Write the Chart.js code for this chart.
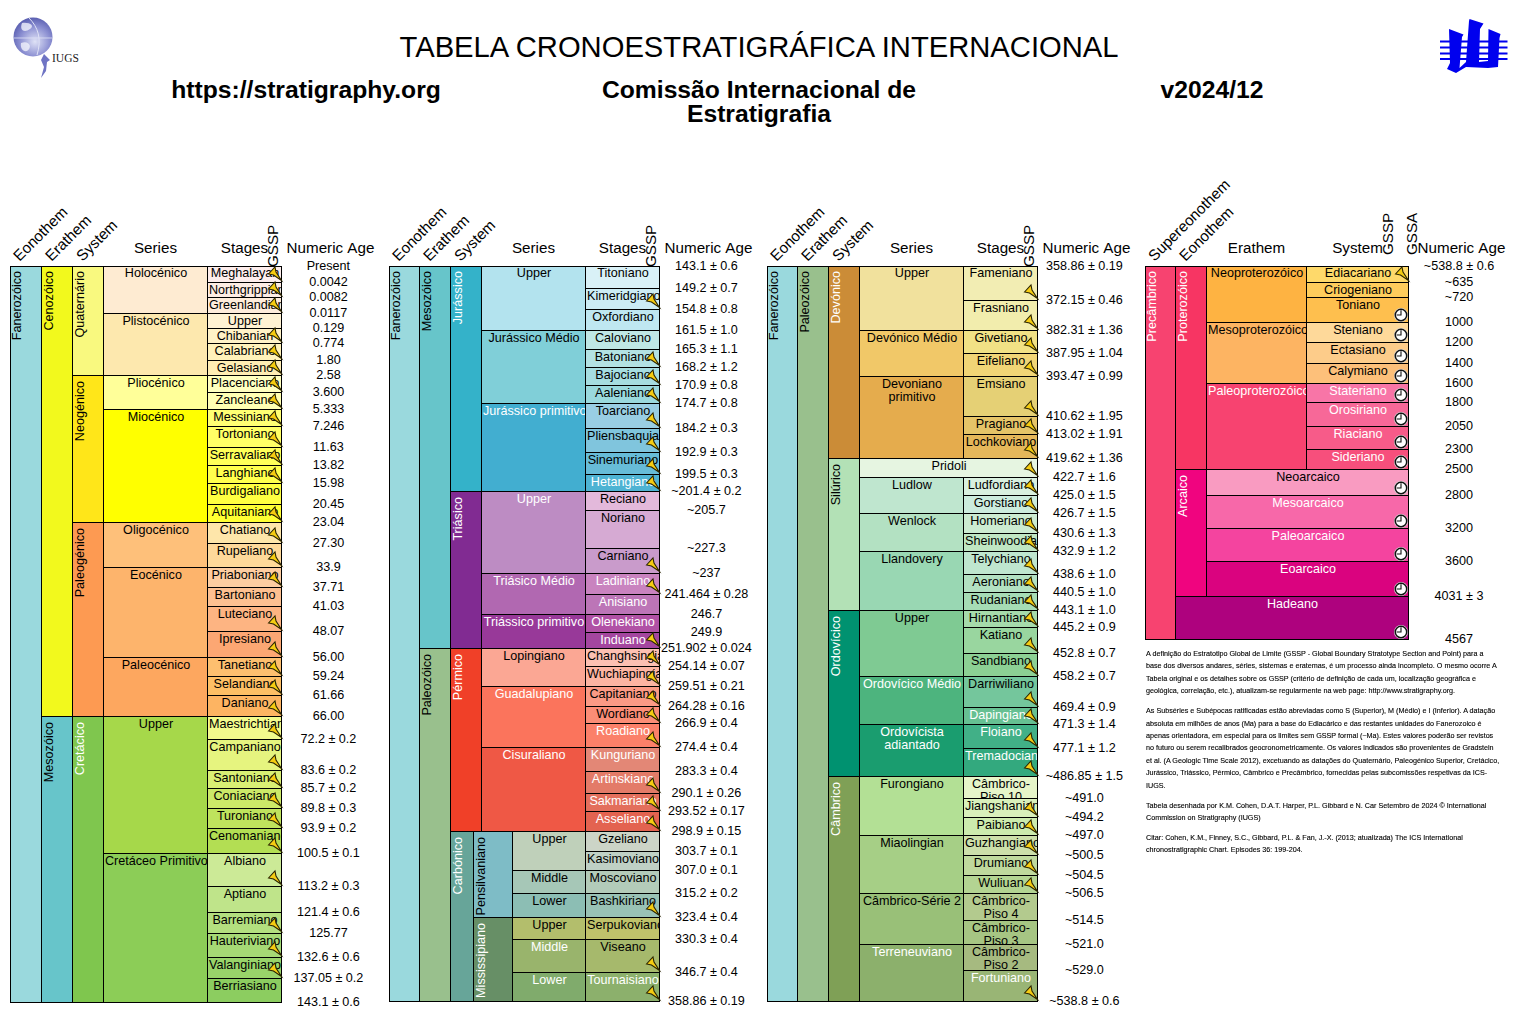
<!DOCTYPE html>
<html lang="pt">
<head>
<meta charset="utf-8">
<title>Tabela Cronoestratigráfica Internacional</title>
<script src="https://cdn.jsdelivr.net/npm/chart.js@4"></script>
<style>
body { margin: 0; background: #fff; font-family: "Liberation Sans", sans-serif; }
canvas, svg, h1, h2, #notes { position: absolute; }
canvas { top: 170px; }
h1 { left: 0; top: 30px; width: 1518px; margin: 0; text-align: center; font-weight: normal; font-size: 29.2px; line-height: 34px; color: #000; }
h2 { margin: 0; text-align: center; font-size: 24.7px; line-height: 23.5px; color: #000; }
#notes { left: 1146px; top: 648px; width: 372px; font-size: 7.2px; line-height: 12.4px; color: #000; white-space: nowrap; -webkit-text-stroke: 0.12px #000; }
#notes p { margin: 0 0 7.6px; }
</style>
</head>
<body>
<svg style="left:0;top:5px" width="100" height="80" viewBox="0 0 100 80">
  <defs><radialGradient id="globe" cx="0.55" cy="0.62" r="0.7">
    <stop offset="0" stop-color="#dfe2f6"/><stop offset="0.55" stop-color="#8c90d2"/><stop offset="1" stop-color="#4a4fa6"/>
  </radialGradient></defs>
  <circle cx="33" cy="32" r="19.5" fill="url(#globe)"/>
  <path d="M14 33 H52" stroke="#dfe2f6" stroke-width="0.8"/>
  <path d="M29 13 C38 22 42 34 37 50" fill="none" stroke="#dfe2f6" stroke-width="1"/>
  <path d="M22 18 C30 17 35 21 30 24 C25 28 19 26 22 18Z M21 38 C29 35 33 42 27 46 C23 47 20 43 21 38Z" fill="#f0f1fb" opacity="0.8"/>
  <path d="M44 49 L50 55 L47 57 L46 66 L41 73 L44 62 L41 55Z" fill="#6f74c4"/>
  <text x="52" y="57" font-family="Liberation Serif" font-size="11.5" fill="#222">IUGS</text>
</svg>
<svg style="left:1420px;top:5px" width="100" height="80" viewBox="0 0 100 80" fill="#0000ee">
  <path d="M20 35.5H87.5V37.5H20ZM20 41.5H87.5V43.5H20ZM20 47.5H87.5V49.5H20ZM20 53H87.5V55H20Z"/>
  <path d="M29 24 L43.5 29.5 L42 32 L39.5 63 L46 57 L49 16 L49.5 14 L63.5 18.5 L60 24 L59 57 L68 56 L68.5 24 L80.5 29 L79.5 33 L78 62 L68 63 L46 62 L36 68 L27 64 L30 58Z"/>
</svg>
<h1>TABELA CRONOESTRATIGRÁFICA INTERNACIONAL</h1>
<h2 style="left:106px;top:78px;width:400px">https://stratigraphy.org</h2>
<h2 style="left:509px;top:78px;width:500px">Comissão Internacional de<br>Estratigrafia</h2>
<h2 style="left:1112px;top:78px;width:200px">v2024/12</h2>
<canvas id="p1" width="378" height="848" style="left:0"></canvas>
<canvas id="p2" width="378" height="848" style="left:378px"></canvas>
<canvas id="p3" width="378" height="848" style="left:756px"></canvas>
<canvas id="p4" width="386" height="848" style="left:1134px"></canvas>
<div id="notes">
<p>A definição do Estratotipo Global de Limite (GSSP - Global Boundary Stratotype Section and Point) para a<br>base dos diversos andares, séries, sistemas e eratemas, é um processo ainda incompleto. O mesmo ocorre A<br>Tabela original e os detalhes sobre os GSSP (critério de definição de cada um, localização geográfica e<br>geológica, correlação, etc.), atualizam-se regularmente na web page: http://www.stratigraphy.org.</p>
<p>As Subséries e Subépocas ratificadas estão abreviadas como S (Superior), M (Médio) e I (Inferior). A datação<br>absoluta em milhões de anos (Ma) para a base do Ediacárico e das restantes unidades do Fanerozoico é<br>apenas orientadora, em especial para os limites sem GSSP formal (~Ma). Estes valores poderão ser revistos<br>no futuro ou serem recalibrados geocronometricamente. Os valores indicados são provenientes de Gradstein<br>et al. (A Geologic Time Scale 2012), excetuando as datações do Quaternário, Paleogénico Superior, Cretácico,<br>Jurássico, Triássico, Pérmico, Câmbrico e Precâmbrico, fornecidas pelas subcomissões respetivas da ICS-<br>IUGS.</p>
<p>Tabela desenhada por K.M. Cohen, D.A.T. Harper, P.L. Gibbard e N. Car Setembro de 2024 © International<br>Commission on Stratigraphy (IUGS)</p>
<p>Citar: Cohen, K.M., Finney, S.C., Gibbard, P.L. &amp; Fan, J.-X. (2013; atualizada) The ICS International<br>chronostratigraphic Chart. Episodes 36: 199-204.</p>
</div>
<script>
// row edges below are table rows, counted down from the top of each table

// panel 1: Cenozoic and Cretaceous
const p1Stages = ['Meghalayan', 'Northgrippian', 'Greenlandian', 'Upper', 'Chibanian', 'Calabriano', 'Gelasiano', 'Placenciano', 'Zancleano', 'Messiniano', 'Tortoniano', 'Serravaliano', 'Langhiano', 'Burdigaliano', 'Aquitaniano', 'Chatiano', 'Rupeliano', 'Priaboniano', 'Bartoniano', 'Luteciano', 'Ipresiano', 'Tanetiano', 'Selandiano', 'Daniano', 'Maestrichtiano', 'Campaniano', 'Santoniano', 'Coniaciano', 'Turoniano', 'Cenomaniano', 'Albiano', 'Aptiano', 'Barremiano', 'Hauteriviano', 'Valanginiano', 'Berriasiano'];
const p1Rows = [0, 17, 32, 48, 63, 78, 95, 110, 127, 144, 161, 182, 200, 218, 239, 257, 278, 302, 322, 341, 366, 392, 411, 430, 451, 474, 505, 523, 543, 563, 588, 621, 647, 668, 692, 713, 737];
const p1Ages = ['Present', '0.0042', '0.0082', '0.0117', '0.129', '0.774', '1.80', '2.58', '3.600', '5.333', '7.246', '11.63', '13.82', '15.98', '20.45', '23.04', '27.30', '33.9', '37.71', '41.03', '48.07', '56.00', '59.24', '61.66', '66.00', '72.2 ± 0.2', '83.6 ± 0.2', '85.7 ± 0.2', '89.8 ± 0.3', '93.9 ± 0.2', '100.5 ± 0.1', '113.2 ± 0.3', '121.4 ± 0.6', '125.77', '132.6 ± 0.6', '137.05 ± 0.2', '143.1 ± 0.6'];
const p1Gssp = [0, 1, 2, 4, 5, 6, 7, 8, 9, 10, 11, 12, 14, 15, 16, 17, 19, 20, 21, 22, 23, 24, 25, 26, 27, 28, 29, 30, 32, 33, 34];
const p1Series = ['Holocénico', 'Plistocénico', 'Pliocénico', 'Miocénico', 'Oligocénico', 'Eocénico', 'Paleocénico', 'Upper', 'Cretáceo Primitivo'];
const p1SeriesRows = [0, 48, 110, 144, 257, 302, 392, 451, 588, 737];
const p1Systems = ['Quaternário', 'Neogénico', 'Paleogénico', 'Cretácico'];
const p1SystemRows = [0, 110, 257, 451, 737];
const p1Eras = ['Cenozóico', 'Mesozóico'];
const p1EraRows = [0, 451, 737];
const p1Eons = ['Fanerozóico'];
const p1EonRows = [0, 737];

// panel 2: Jurassic to Carboniferous
const p2Stages = ['Titoniano', 'Kimeridgiano', 'Oxfordiano', 'Caloviano', 'Batoniano', 'Bajociano', 'Aaleniano', 'Toarciano', 'Pliensbaquiano', 'Sinemuriano', 'Hetangiano', 'Reciano', 'Noriano', 'Carniano', 'Ladiniano', 'Anisiano', 'Olenekiano', 'Induano', 'Changhsingiano', 'Wuchiapingiano', 'Capitaniano', 'Wordiano', 'Roadiano', 'Kunguriano', 'Artinskiano', 'Sakmariano', 'Asseliano', 'Gzeliano', 'Kasimoviano', 'Moscoviano', 'Bashkiriano', 'Serpukoviano', 'Viseano', 'Tournaisiano'];
const p2Rows = [0, 23, 44, 65, 84, 102, 120, 138, 163, 187, 209, 226, 245, 283, 308, 329, 349, 367, 383, 401, 421, 441, 458, 482, 506, 528, 546, 566, 586, 605, 628, 652, 674, 707, 736];
const p2Ages = ['143.1 ± 0.6', '149.2 ± 0.7', '154.8 ± 0.8', '161.5 ± 1.0', '165.3 ± 1.1', '168.2 ± 1.2', '170.9 ± 0.8', '174.7 ± 0.8', '184.2 ± 0.3', '192.9 ± 0.3', '199.5 ± 0.3', '~201.4 ± 0.2', '~205.7', '~227.3', '~237', '241.464 ± 0.28', '246.7', '249.9', '251.902 ± 0.024', '254.14 ± 0.07', '259.51 ± 0.21', '264.28 ± 0.16', '266.9 ± 0.4', '274.4 ± 0.4', '283.3 ± 0.4', '290.1 ± 0.26', '293.52 ± 0.17', '298.9 ± 0.15', '303.7 ± 0.1', '307.0 ± 0.1', '315.2 ± 0.2', '323.4 ± 0.4', '330.3 ± 0.4', '346.7 ± 0.4', '358.86 ± 0.19'];
const p2Gssp = [1, 4, 5, 6, 7, 8, 9, 10, 13, 14, 17, 18, 19, 20, 21, 22, 24, 25, 26, 30, 32, 33];
const p2Series = ['Upper', 'Jurássico Médio', 'Jurássico primitivo', 'Upper', 'Triásico Médio', 'Triássico primitivo', 'Lopingiano', 'Guadalupiano', 'Cisuraliano'];
const p2SeriesRows = [0, 65, 138, 226, 308, 349, 383, 421, 482, 566];
const p2CarbSeries = ['Upper', 'Middle', 'Lower', 'Upper', 'Middle', 'Lower'];
const p2CarbSeriesRows = [566, 605, 628, 652, 674, 707, 736];
const p2SubSystems = ['Pensilvaniano', 'Mississipiano'];
const p2SubSystemRows = [566, 652, 736];
const p2Systems = ['Jurássico', 'Triásico', 'Pérmico'];
const p2SystemRows = [0, 226, 383, 566];
const p2Carb = ['Carbónico'];
const p2CarbRows = [566, 736];
const p2Eras = ['Mesozóico', 'Paleozóico'];
const p2EraRows = [0, 383, 736];
const p2Eons = ['Fanerozóico'];
const p2EonRows = [0, 736];

// panel 3: Devonian to Cambrian, the row 7 stage is Pridoli which spans two columns
const p3Stages = ['Fameniano', 'Frasniano', 'Givetiano', 'Eifeliano', 'Emsiano', 'Pragiano', 'Lochkoviano', null, 'Ludfordiano', 'Gorstiano', 'Homeriano', 'Sheinwoodiano', 'Telychiano', 'Aeroniano', 'Rudaniano', 'Hirnantiano', 'Katiano', 'Sandbiano', 'Darriwiliano', 'Dapingiano', 'Floiano', 'Tremadociano', 'Câmbrico-\nPiso 10', 'Jiangshaniano', 'Paibiano', 'Guzhangiano', 'Drumiano', 'Wuliuan', 'Câmbrico-\nPiso 4', 'Câmbrico-\nPiso 3', 'Câmbrico-\nPiso 2', 'Fortuniano'];
const p3Rows = [0, 35, 65, 88, 111, 151, 169, 193, 212, 230, 248, 268, 286, 309, 327, 345, 362, 388, 411, 442, 459, 483, 511, 533, 552, 570, 590, 610, 628, 655, 679, 705, 736];
const p3Ages = ['358.86 ± 0.19', '372.15 ± 0.46', '382.31 ± 1.36', '387.95 ± 1.04', '393.47 ± 0.99', '410.62 ± 1.95', '413.02 ± 1.91', '419.62 ± 1.36', '422.7 ± 1.6', '425.0 ± 1.5', '426.7 ± 1.5', '430.6 ± 1.3', '432.9 ± 1.2', '438.6 ± 1.0', '440.5 ± 1.0', '443.1 ± 1.0', '445.2 ± 0.9', '452.8 ± 0.7', '458.2 ± 0.7', '469.4 ± 0.9', '471.3 ± 1.4', '477.1 ± 1.2', '~486.85 ± 1.5', '~491.0', '~494.2', '~497.0', '~500.5', '~504.5', '~506.5', '~514.5', '~521.0', '~529.0', '~538.8 ± 0.6'];
const p3Gssp = [0, 1, 2, 3, 4, 5, 6, 7, 8, 9, 10, 11, 12, 13, 14, 15, 16, 17, 18, 19, 20, 21, 23, 24, 25, 26, 27, 31];
const p3Span = ['Pridoli'];
const p3SpanRows = [193, 212];
const p3Series = ['Upper', 'Devónico Médio', 'Devoniano\nprimitivo', null, 'Ludlow', 'Wenlock', 'Llandovery', 'Upper', 'Ordovícico Médio', 'Ordovícista\nadiantado', 'Furongiano', 'Miaolingian', 'Câmbrico-Série 2', 'Terreneuviano'];
const p3SeriesRows = [0, 65, 111, 193, 212, 248, 286, 345, 411, 459, 511, 570, 628, 679, 736];
const p3Systems = ['Devónico', 'Silúrico', 'Ordovícico', 'Câmbrico'];
const p3SystemRows = [0, 193, 345, 511, 736];
const p3Eras = ['Paleozóico'];
const p3EraRows = [0, 736];
const p3Eons = ['Fanerozóico'];
const p3EonRows = [0, 736];

// panel 4: Precambrian
const p4Systems = ['Ediacariano', 'Criogeniano', 'Toniano', 'Steniano', 'Ectasiano', 'Calymiano', 'Stateriano', 'Orosiriano', 'Riaciano', 'Sideriano'];
const p4SystemRows = [0, 17, 32, 57, 77, 98, 118, 137, 161, 184, 204];
const p4Rows = [0, 17, 32, 57, 77, 98, 118, 137, 161, 184, 204, 230, 263, 296, 331, 374];
const p4Ages = ['~538.8 ± 0.6', '~635', '~720', '1000', '1200', '1400', '1600', '1800', '2050', '2300', '2500', '2800', '3200', '3600', '4031 ± 3', '4567'];
const p4Gssp = [0];
const p4Gssa = [2, 3, 4, 5, 6, 7, 8, 9, 10, 11, 12, 13, 14];
const p4Eras = ['Neoproterozóico', 'Mesoproterozóico', 'Paleoproterozóico'];
const p4EraRows = [0, 57, 118, 204];
const p4Span = ['Neoarcaico', 'Mesoarcaico', 'Paleoarcaico', 'Eoarcaico'];
const p4SpanRows = [204, 230, 263, 296, 331];
const p4Eons = ['Proterozóico', 'Arcaico'];
const p4EonRows = [0, 204, 331];
const p4Hadean = ['Hadeano'];
const p4HadeanRows = [331, 374];
const p4Super = ['Precâmbrico'];
const p4SuperRows = [0, 374];

// colours, same order as the lists above
const p1StageColors = ['#FDEDEC', '#FDECE4', '#FEECDB', '#FFF2D3', '#FFF2C7', '#FFF2BA', '#FFEDB3', '#FFFFBF', '#FFFFB3', '#FFFF73', '#FFFF66', '#FFFF59', '#FFFF4D', '#FFFF41', '#FFFF33', '#FEE6AA', '#FED99A', '#FDCDA1', '#FDC091', '#FDB482', '#FCA773', '#FDBF6F', '#FEBF65', '#FDB462', '#F2FA8C', '#E6F47F', '#D9EF74', '#CCE968', '#BFE35D', '#B3DE53', '#CCEA97', '#BFE48A', '#B3DF7F', '#A6D975', '#99D36A', '#8CCD60'];
const p1SeriesColors = ['#FEEBD2', '#FDE8AE', '#FFFF99', '#FFFF00', '#FEC07A', '#FDB46C', '#FDA75F', '#A6D84A', '#8CCD57'];
const p1SystemColors = ['#F9F97F', '#FFE619', '#FD9A52', '#7FC64E'];
const p1EraColors = ['#F2F91D', '#67C5CA'];
const eonColor = ['#9AD9DD'];
const p2StageColors = ['#D9F1F7', '#CCECF4', '#BFE7F1', '#BFE7E5', '#B3E2E3', '#A6DDE0', '#9AD9DD', '#99CEE3', '#80C5DD', '#67BCD8', '#4EB3D3', '#E3B9DB', '#D6AAD3', '#C99BCB', '#C983BF', '#BC75B7', '#B051A5', '#A4469F', '#FCC0B2', '#FCB4A2', '#FB9A85', '#FB8D76', '#FB8069', '#E38776', '#E37B68', '#E36F5C', '#E36350', '#CCD4C7', '#BFD0C5', '#B3CBB9', '#99C2B5', '#BFC26B', '#A6B96C', '#8CB06C'];
const p2SeriesColors = ['#B3E3EE', '#80CFD8', '#42AED0', '#BD8CC3', '#B168B1', '#983999', '#FBA794', '#FB745C', '#EF5845'];
const p2CarbSeriesColors = ['#BFD0BA', '#A6C7B7', '#8CBEB4', '#B3BE6C', '#99B46C', '#80AB6C'];
const p2SubSystemColors = ['#7EBCC6', '#678F66'];
const p2SystemColors = ['#34B2C9', '#812B92', '#F04028'];
const p2CarbColor = ['#67A599'];
const p2EraColors = ['#67C5CA', '#99C08D'];
const p3StageColors = ['#F2EDB3', '#F2EDAD', '#F1E185', '#F1D576', '#E5D075', '#E5C468', '#E5B75A', '#E6F5E1', '#D9F0DF', '#CCECDD', '#CCEBD1', '#BFE6C3', '#BFE6CF', '#B3E1C2', '#A6DCB5', '#A6DBAB', '#99D69F', '#8CD094', '#74C69C', '#66C092', '#41B087', '#33A97E', '#E6F5C9', '#D9F0BB', '#CCEBAE', '#CCDFAA', '#BFD99D', '#B3D492', '#B3CA8E', '#A6C583', '#A6BA80', '#99B575'];
const p3SpanColor = ['#E6F5E1'];
const p3SeriesColors = ['#F1E19D', '#F1C868', '#E5AC4D', '#E6F5E1', '#BFE6CF', '#B3E1C2', '#99D7B3', '#7FCA93', '#4DB47E', '#1A9D6F', '#B3E095', '#A6CF86', '#99C078', '#8CB06C'];
const p3SystemColors = ['#CB8C37', '#B3E1B6', '#009270', '#7FA056'];
const p3EraColor = ['#99C08D'];
const p4SystemColors = ['#FED96A', '#FECC5C', '#FEBF4E', '#FED99A', '#FDCC8A', '#FDC07A', '#F875A7', '#F76898', '#F75B89', '#F74F7C'];
const p4EraColors = ['#FEB342', '#FDB462', '#F74370'];
const p4SpanColors = ['#F99BC1', '#F768A9', '#F4449F', '#DA037F'];
const p4EonColors = ['#F73563', '#F0047F'];
const p4HadeanColor = ['#AE027E'];
const p4SuperColor = ['#F74370'];

const p1Cols = [0, 32, 63, 94, 198, 272];
const otherCols = [0, 31, 62, 93, 197, 271];
const p4Cols = [0, 31, 62, 162, 264];
const CELL_FONT = '12.6px "Liberation Sans"';
const HEAD_FONT = '15.2px "Liberation Sans"';
const measure = document.createElement('canvas').getContext('2d');

// one dataset per column, bars float between two row edges
function column(xa, xb, names, rows, colors, whites = [], vertical = false) {
  const keep = names.map((n, i) => i).filter(i => names[i] !== null);
  return {
    data: keep.map(i => ({ x: (xa + xb) / 2, y: [rows[i], rows[i + 1]] })),
    backgroundColor: keep.map(i => colors[i]),
    borderColor: '#000',
    borderWidth: keep.map(i => ({ top: rows[i] === 0 ? 1 : 0, left: xa === 0 ? 1 : 0, right: 1, bottom: 1 })),
    borderSkipped: false,
    inflateAmount: 0,
    grouped: false,
    barPercentage: 100,
    categoryPercentage: 1,
    maxBarThickness: xb - xa,
    names: keep.map(i => names[i]),
    inks: keep.map(i => whites.includes(i) ? '#fff' : '#000'),
    vertical
  };
}

function drawSpike(ctx, x, y) {
  ctx.save();
  ctx.translate(x, y);
  ctx.beginPath();
  ctx.moveTo(-13, -6.5);
  ctx.lineTo(-6.5, -13.5);
  ctx.lineTo(-5.5, -8.5);
  ctx.lineTo(0, 0);
  ctx.lineTo(-8, -5.5);
  ctx.closePath();
  ctx.fillStyle = '#F5CC12';
  ctx.strokeStyle = '#2a2400';
  ctx.lineWidth = 1.1;
  ctx.fill();
  ctx.stroke();
  ctx.restore();
}

function drawClock(ctx, x, y) {
  ctx.save();
  ctx.beginPath();
  ctx.arc(x, y, 7, 0, Math.PI * 2);
  ctx.fillStyle = '#d8d8d8';
  ctx.fill();
  ctx.beginPath();
  ctx.arc(x, y, 5.7, 0, Math.PI * 2);
  ctx.fillStyle = '#fff';
  ctx.fill();
  ctx.strokeStyle = '#111';
  ctx.lineWidth = 1.5;
  ctx.stroke();
  ctx.beginPath();
  ctx.moveTo(x, y - 4.8);
  ctx.lineTo(x, y);
  ctx.lineTo(x - 4.3, y);
  ctx.lineWidth = 1.1;
  ctx.stroke();
  ctx.restore();
}

function drawCellText(chart) {
  const ctx = chart.ctx;
  chart.data.datasets.forEach((ds, d) => {
    chart.getDatasetMeta(d).data.forEach((bar, i) => {
      const top = Math.min(bar.y, bar.base);
      const h = Math.abs(bar.y - bar.base);
      const left = bar.x - bar.width / 2;
      ctx.save();
      ctx.beginPath();
      ctx.rect(left, top, bar.width - 1, h - 1);
      ctx.clip();
      ctx.font = CELL_FONT;
      ctx.fillStyle = ds.inks[i];
      ctx.textBaseline = 'middle';
      if (ds.vertical) {
        ctx.translate(left + 8, top + 5);
        ctx.rotate(-Math.PI / 2);
        ctx.textAlign = 'right';
        ctx.fillText(ds.names[i], 0, 0);
      } else {
        ds.names[i].split('\n').forEach((line, n) => {
          const w = ctx.measureText(line).width;
          const tooWide = w > bar.width - 2;
          ctx.textAlign = tooWide ? 'left' : 'center';
          ctx.fillText(line, tooWide ? left + 1 : bar.x, top + 8 + n * 12.3);
        });
      }
      ctx.restore();
    });
  });
}

function drawHeaders(chart, p) {
  const ctx = chart.ctx;
  const { top, right } = chart.chartArea;
  const x = chart.scales.x;
  ctx.save();
  ctx.font = HEAD_FONT;
  ctx.fillStyle = '#000';
  p.heads.forEach((name, i) => {
    const a = x.getPixelForValue(p.cols[i]);
    const b = x.getPixelForValue(p.cols[i + 1]);
    if (b - a < 40) {
      ctx.save();
      ctx.translate(a + 9.5, top - 4);
      ctx.rotate(-Math.PI / 4);
      ctx.textAlign = 'left';
      ctx.textBaseline = 'alphabetic';
      ctx.fillText(name, 0, 0);
      ctx.restore();
    } else {
      ctx.textAlign = 'center';
      ctx.textBaseline = 'middle';
      ctx.fillText(name, (a + b) / 2 - 0.5, top - 17.5);
    }
  });
  ctx.textAlign = 'center';
  ctx.textBaseline = 'middle';
  ctx.fillText('Numeric Age', right + p.ageHead, top - 17.5);
  p.sideHeads.forEach(([name, dx, bottom]) => {
    ctx.save();
    ctx.translate(right + dx, top + bottom);
    ctx.rotate(-Math.PI / 2);
    ctx.textAlign = 'left';
    ctx.fillText(name, 0, 0);
    ctx.restore();
  });
  ctx.restore();
}

const tablePlugin = {
  id: 'table',
  beforeDraw(chart) {
    chart.ctx.fillStyle = '#fff';
    chart.ctx.fillRect(0, 0, chart.width, chart.height);
  },
  afterDatasetsDraw(chart, args, p) {
    const ctx = chart.ctx;
    const y = chart.scales.y;
    const right = chart.chartArea.right;
    drawCellText(chart);
    p.gssp.forEach(i => drawSpike(ctx, right - 0.5, y.getPixelForValue(p.rows[i + 1]) - 2.5));
    (p.gssa || []).forEach(i => drawClock(ctx, right - 8, y.getPixelForValue(p.rows[i + 1]) - 8));
    drawHeaders(chart, p);
  }
};

function panel(id, p) {
  const canvas = document.getElementById(id);
  canvas.getContext('2d', { alpha: false });
  const end = p.cols[p.cols.length - 1];
  const last = p.rows[p.rows.length - 1];
  measure.font = CELL_FONT;
  const widest = Math.max(...p.ages.map(a => measure.measureText(a).width));
  return new Chart(canvas, {
    type: 'bar',
    data: { datasets: p.datasets },
    plugins: [tablePlugin],
    options: {
      responsive: false,
      animation: false,
      devicePixelRatio: 1,
      events: [],
      layout: { padding: { left: p.left, top: 96, right: 0, bottom: canvas.height - 96 - last } },
      plugins: { legend: { display: false }, tooltip: { enabled: false }, table: p },
      scales: {
        x: { type: 'linear', min: 0, max: end, offset: false, display: false, grid: { display: false } },
        y: {
          position: 'right',
          reverse: true,
          min: 0,
          max: last,
          grid: { display: false, drawTicks: false },
          border: { display: false },
          // the first age label sits just under the table's top line
          afterBuildTicks: ax => { ax.ticks = p.rows.map(value => ({ value: Math.max(value, 1.5) })); },
          afterFit: ax => {
            ax.width = canvas.width - p.left - end;
            ax.paddingTop = 0;
            ax.paddingBottom = 0;
          },
          ticks: {
            autoSkip: false,
            crossAlign: 'center',
            padding: p.ageAt - widest / 2,
            labelOffset: -0.5,
            color: '#000',
            font: { family: 'Liberation Sans', size: 12.6 },
            callback: (v, i) => p.ages[i]
          }
        }
      }
    }
  });
}

panel('p1', {
  left: 10, cols: p1Cols, rows: p1Rows, ages: p1Ages, gssp: p1Gssp, ageAt: 46.4, ageHead: 48.5,
  heads: ['Eonothem', 'Erathem', 'System', 'Series', 'Stages'], sideHeads: [['GSSP', -8, 1]],
  datasets: [
    column(0, 32, p1Eons, p1EonRows, eonColor, [], true),
    column(32, 63, p1Eras, p1EraRows, p1EraColors, [], true),
    column(63, 94, p1Systems, p1SystemRows, p1SystemColors, [3], true),
    column(94, 198, p1Series, p1SeriesRows, p1SeriesColors),
    column(198, 272, p1Stages, p1Rows, p1StageColors)
  ]
});

panel('p2', {
  left: 11, cols: otherCols, rows: p2Rows, ages: p2Ages, gssp: p2Gssp, ageAt: 46.4, ageHead: 48.5,
  heads: ['Eonothem', 'Erathem', 'System', 'Series', 'Stages'], sideHeads: [['GSSP', -8, 1]],
  datasets: [
    column(0, 31, p2Eons, p2EonRows, eonColor, [], true),
    column(31, 62, p2Eras, p2EraRows, p2EraColors, [], true),
    column(62, 93, p2Systems, p2SystemRows, p2SystemColors, [0, 1, 2], true),
    column(62, 85, p2Carb, p2CarbRows, p2CarbColor, [0], true),
    column(85, 124, p2SubSystems, p2SubSystemRows, p2SubSystemColors, [1], true),
    column(124, 197, p2CarbSeries, p2CarbSeriesRows, p2CarbSeriesColors, [4, 5]),
    column(93, 197, p2Series, p2SeriesRows, p2SeriesColors, [2, 3, 4, 5, 7, 8]),
    column(197, 271, p2Stages, p2Rows, p2StageColors, [10, 14, 15, 16, 17, 22, 23, 24, 25, 26, 33])
  ]
});

panel('p3', {
  left: 11, cols: otherCols, rows: p3Rows, ages: p3Ages, gssp: p3Gssp, ageAt: 46.4, ageHead: 48.5,
  heads: ['Eonothem', 'Erathem', 'System', 'Series', 'Stages'], sideHeads: [['GSSP', -8, 1]],
  datasets: [
    column(0, 31, p3Eons, p3EonRows, eonColor, [], true),
    column(31, 62, p3Eras, p3EraRows, p3EraColor, [], true),
    column(62, 93, p3Systems, p3SystemRows, p3SystemColors, [0, 2, 3], true),
    column(93, 197, p3Series, p3SeriesRows, p3SeriesColors, [8, 9, 13]),
    column(93, 271, p3Span, p3SpanRows, p3SpanColor),
    column(197, 271, p3Stages, p3Rows, p3StageColors, [19, 20, 21, 31])
  ]
});

panel('p4', {
  left: 11, cols: p4Cols, rows: p4Rows, ages: p4Ages, gssp: p4Gssp, gssa: p4Gssa, ageAt: 50, ageHead: 52.5,
  heads: ['Supereonothem', 'Eonothem', 'Erathem', 'System'], sideHeads: [['GSSP', -20, -11], ['GSSA', 4, -11]],
  datasets: [
    column(0, 31, p4Super, p4SuperRows, p4SuperColor, [0], true),
    column(31, 62, p4Eons, p4EonRows, p4EonColors, [0, 1], true),
    column(31, 264, p4Hadean, p4HadeanRows, p4HadeanColor, [0]),
    column(62, 162, p4Eras, p4EraRows, p4EraColors, [2]),
    column(62, 264, p4Span, p4SpanRows, p4SpanColors, [1, 2, 3]),
    column(162, 264, p4Systems, p4SystemRows, p4SystemColors, [6, 7, 8, 9])
  ]
});
</script>
</body>
</html>
